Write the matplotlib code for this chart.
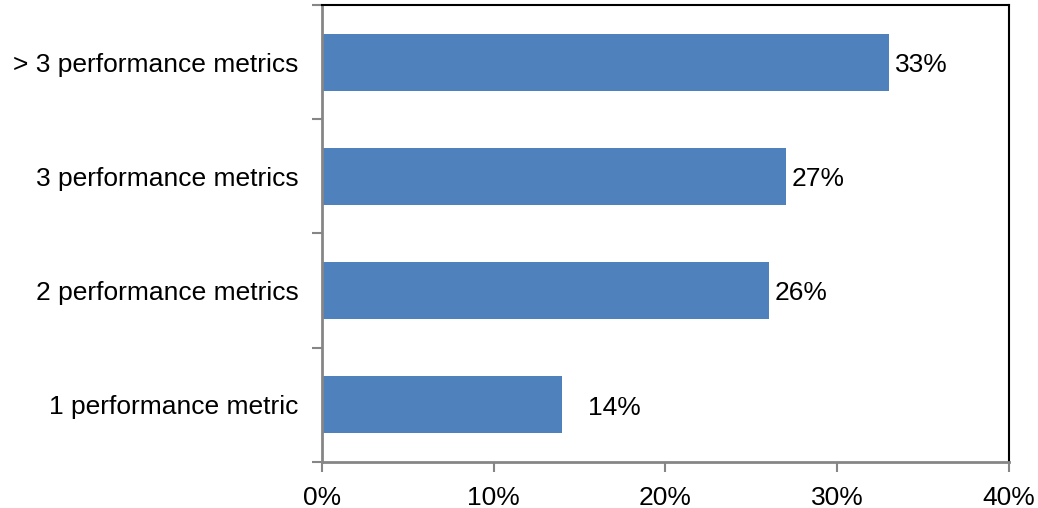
import numpy as np
import matplotlib.pyplot as plt
from matplotlib.ticker import FixedLocator

plt.rcParams['font.family'] = ['Liberation Sans', 'DejaVu Sans']

categories = ['1 performance metric', '2 performance metrics',
              '3 performance metrics', '> 3 performance metrics']
shares = [14, 26, 27, 33]
share_labels = ['14%', '26%', '27%', '33%']
x_ticks = [0, 10, 20, 30, 40]
x_tick_labels = ['0%', '10%', '20%', '30%', '40%']

bar_color = '#4F81BD'
axis_gray = '#868686'
fs = 19

fig = plt.figure(figsize=(10.38, 5.08), dpi=100)
ax = fig.add_axes([0.3102, 0.0906, 0.6618, 0.8996])

y = np.arange(len(categories))
ax.barh(y, shares, height=0.5, color=bar_color, zorder=2)

# value labels; the shortest bar's label sits a bit further out
for yi, v, lab in zip(y, shares, share_labels):
    pad = 1.5 if v < 20 else 0.35
    ax.text(v + pad, yi - 0.025, lab, va='center', ha='left', fontsize=fs, color='black')

ax.set_xlim(0, 40)
ax.set_ylim(-0.5, len(categories) - 0.5)
ax.set_xticks(x_ticks)
ax.set_xticklabels(x_tick_labels, fontsize=fs)

# category names without tick marks, ticks between categories instead
ax.set_yticks(y)
ax.set_yticklabels(categories, fontsize=fs)
ax.tick_params(axis='y', which='major', length=0, pad=17)
ax.yaxis.set_minor_locator(FixedLocator(np.arange(-0.5, len(categories), 1.0)))
ax.tick_params(axis='y', which='minor', length=7, width=1.5, color=axis_gray)
ax.tick_params(axis='x', length=7, width=1.5, color=axis_gray, pad=10)

for side in ['left', 'bottom']:
    ax.spines[side].set_color(axis_gray)
    ax.spines[side].set_linewidth(2)
for side in ['top', 'right']:
    ax.spines[side].set_color('black')
    ax.spines[side].set_linewidth(1.5)

fig.savefig('out.png', dpi=100)
